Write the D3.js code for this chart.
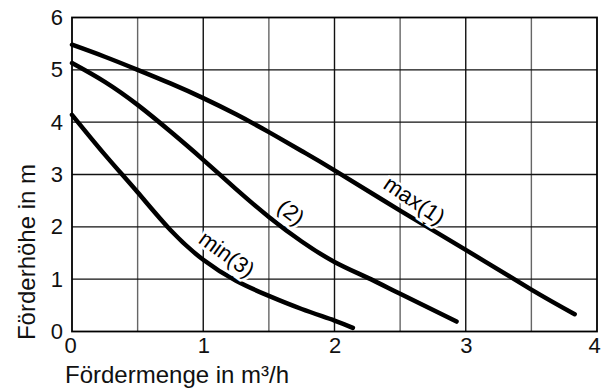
<!DOCTYPE html>
<html>
<head>
<meta charset="utf-8">
<script src="https://cdn.jsdelivr.net/npm/d3@7"></script>
<style>
  body { margin: 0; background: #fff; }
  svg { display: block; font-family: "Liberation Sans", Arial, sans-serif; }
</style>
</head>
<body>
<div id="chart"></div>
<script>
var width = 602, height = 392;
var margin = { top: 17.5, right: 5, bottom: 60.5, left: 72 };

// pump curves: [flow m³/h, head m]
var maxCurve = [[0, 5.48], [0.25, 5.25], [0.5, 5.0], [0.75, 4.74], [1, 4.46], [1.25, 4.15], [1.5, 3.81],
                [1.75, 3.45], [2, 3.08], [2.5, 2.31], [3, 1.56], [3.5, 0.8], [3.83, 0.33]];
var midCurve = [[0, 5.13], [0.25, 4.77], [0.5, 4.33], [0.75, 3.82], [1, 3.28], [1.25, 2.72], [1.5, 2.19],
                [1.75, 1.72], [2, 1.33], [2.25, 1.03], [2.5, 0.72], [2.93, 0.19]];
var minCurve = [[0, 4.14], [0.25, 3.38], [0.5, 2.66], [0.75, 1.94], [1, 1.37], [1.25, 0.97], [1.5, 0.68],
                [1.75, 0.43], [2, 0.21], [2.14, 0.07]];

var labels = [
  { text: "max(1)", x: 2.61, y: 2.51, angle: 34 },
  { text: "(2)", x: 1.67, y: 2.28, angle: 38 },
  { text: "min(3)", x: 1.18, y: 1.48, angle: 36 }
];

var xTicks = [0, 1, 2, 3, 4];
var yTicks = [0, 1, 2, 3, 4, 5, 6];
var xGrid = [0.5, 1, 1.5, 2, 2.5, 3, 3.5];
var xTitle = "Fördermenge in m³/h";
var yTitle = "Förderhöhe in m";

var w = width - margin.left - margin.right;
var h = height - margin.top - margin.bottom;

var svg = d3.select("#chart").append("svg")
  .attr("width", width)
  .attr("height", height);

var g = svg.append("g")
  .attr("transform", "translate(" + margin.left + "," + margin.top + ")");

var scaleX = d3.scaleLinear().domain([0, 4]).range([0, w]);
var scaleY = d3.scaleLinear().domain([0, 6]).range([h, 0]);

// grid
g.selectAll(".vgrid").data(xGrid).enter().append("line")
  .attr("x1", function(d) { return scaleX(d); })
  .attr("x2", function(d) { return scaleX(d); })
  .attr("y1", 0).attr("y2", h)
  .attr("stroke", function(d) { return d % 1 === 0 ? "#111" : "#666"; })
  .attr("stroke-width", 1.4);

g.selectAll(".hgrid").data(yTicks.slice(1, -1)).enter().append("line")
  .attr("x1", 0).attr("x2", w)
  .attr("y1", function(d) { return scaleY(d); })
  .attr("y2", function(d) { return scaleY(d); })
  .attr("stroke", "#111")
  .attr("stroke-width", 1.4);

g.append("rect")
  .attr("width", w).attr("height", h)
  .attr("fill", "none")
  .attr("stroke", "#000")
  .attr("stroke-width", 1.8);

// axes
var yAxis = g.append("g")
  .call(d3.axisLeft(scaleY).tickValues(yTicks).tickFormat(d3.format("d")).tickSize(0).tickPadding(9));
var xAxis = g.append("g")
  .attr("transform", "translate(0," + h + ")")
  .call(d3.axisBottom(scaleX).tickValues(xTicks).tickFormat(d3.format("d")).tickSize(0).tickPadding(6));

[xAxis, yAxis].forEach(function(a) {
  a.select(".domain").remove();
  a.selectAll("text")
    .attr("font-family", "Liberation Sans, Arial, sans-serif")
    .attr("font-size", 22)
    .attr("fill", "#111");
});
// first and last x labels sit a little inward
xAxis.selectAll("text")
  .attr("dx", function(d) { return d === 0 ? -2 : (d === 4 ? -3 : 0); });

// curves
var line = d3.line()
  .x(function(d) { return scaleX(d[0]); })
  .y(function(d) { return scaleY(d[1]); })
  .curve(d3.curveNatural);

[maxCurve, midCurve, minCurve].forEach(function(c) {
  g.append("path")
    .datum(c)
    .attr("fill", "none")
    .attr("stroke", "#000")
    .attr("stroke-width", 4.5)
    .attr("stroke-linecap", "round")
    .attr("d", line);
});

// curve labels
g.selectAll(".lbl").data(labels).enter().append("text")
  .attr("transform", function(d) {
    return "translate(" + scaleX(d.x) + "," + scaleY(d.y) + ") rotate(" + d.angle + ")";
  })
  .attr("text-anchor", "middle")
  .attr("dy", "0.35em")
  .attr("font-size", 22)
  .attr("fill", "#000")
  .attr("stroke", "#fff")
  .attr("stroke-width", 5)
  .attr("paint-order", "stroke")
  .text(function(d) { return d.text; });

// titles
svg.append("text")
  .attr("x", 65).attr("y", 383)
  .attr("font-size", 24)
  .attr("fill", "#111")
  .text(xTitle);

svg.append("text")
  .attr("transform", "translate(35,252) rotate(-90)")
  .attr("text-anchor", "middle")
  .attr("font-size", 24)
  .attr("fill", "#111")
  .text(yTitle);
</script>
</body>
</html>
